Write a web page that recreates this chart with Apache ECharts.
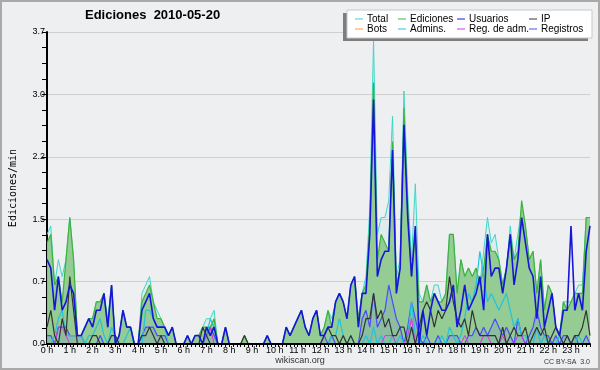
<!DOCTYPE html>
<html>
<head>
<meta charset="utf-8">
<script src="https://cdn.jsdelivr.net/npm/echarts@6/dist/echarts.min.js"></script>
<style>
html,body{margin:0;padding:0;background:#eeeff1;}
#chart{width:600px;height:370px;}
</style>
</head>
<body>
<div id="chart"></div>
<script>
// Tick labels (one per hour) – data points are every 10 minutes
const hourLabels = ['0 h','1 h','2 h','3 h','4 h','5 h','6 h','7 h','8 h','9 h','10 h','11 h',
  '12 h','13 h','14 h','15 h','16 h','17 h','18 h','19 h','20 h','21 h','22 h','23 h'];
const yTicks = [0, 0.74, 1.48, 2.22, 2.96, 3.7];

const total = [
1.3,1.4,0.7,1.0,0.8,1.0,
1.5,1.0,0.1,0.1,0.2,0.3,
0.3,0.5,0.5,0.6,0.3,0.7,
0.0,0.1,0.4,0.2,0.2,0.0,
0.0,0.6,0.7,0.8,0.5,0.4,
0.3,0.2,0.1,0.2,0.0,0.0,
0.0,0.1,0.0,0.1,0.1,0.2,
0.3,0.3,0.4,0.0,0.0,0.2,
0.0,0.0,0.0,0.0,0.1,0.0,
0.0,0.0,0.0,0.0,0.1,0.0,
0.0,0.0,0.0,0.2,0.1,0.2,
0.3,0.4,0.2,0.1,0.3,0.4,
0.1,0.2,0.4,0.3,0.5,0.6,
0.5,0.3,0.7,0.8,0.3,0.6,
0.8,1.6,3.6,1.3,1.5,1.5,
1.7,2.7,0.8,1.0,3.0,1.8,
1.0,1.9,0.6,0.5,0.7,0.5,
0.7,0.7,0.5,0.6,1.3,1.3,
0.6,1.0,0.8,0.9,0.8,0.9,
0.7,1.1,1.5,1.2,1.3,1.0,
0.7,0.9,1.4,1.0,1.3,1.6,
1.4,1.0,1.1,0.6,1.0,0.4,
0.7,0.6,0.2,0.1,0.5,0.5,
0.5,0.6,0.7,0.7,1.5,1.5];

const ediciones = [
1.2,1.3,0.7,0.8,0.5,1.0,
1.5,1.0,0.1,0.1,0.2,0.3,
0.3,0.5,0.5,0.6,0.2,0.7,
0.0,0.1,0.4,0.2,0.2,0.0,
0.0,0.5,0.6,0.7,0.5,0.3,
0.3,0.2,0.1,0.2,0.0,0.0,
0.0,0.1,0.0,0.1,0.1,0.2,
0.2,0.2,0.3,0.0,0.0,0.2,
0.0,0.0,0.0,0.0,0.1,0.0,
0.0,0.0,0.0,0.0,0.1,0.0,
0.0,0.0,0.0,0.2,0.1,0.2,
0.3,0.4,0.2,0.1,0.3,0.4,
0.1,0.2,0.4,0.2,0.5,0.6,
0.5,0.3,0.7,0.8,0.3,0.6,
0.7,1.4,3.1,1.0,1.3,1.2,
1.1,2.4,0.7,0.9,2.8,1.6,
0.8,1.3,0.5,0.5,0.7,0.5,
0.6,0.5,0.5,0.6,1.3,1.3,
0.6,1.0,0.8,0.9,0.8,0.9,
0.7,0.9,1.3,1.1,1.1,1.0,
0.7,0.9,1.3,1.0,1.1,1.7,
1.4,1.0,1.1,0.6,1.0,0.4,
0.7,0.6,0.2,0.1,0.5,0.4,
0.5,0.6,0.6,0.6,1.5,1.5];

const usuarios = [
1.0,0.9,0.4,0.8,0.4,0.5,
0.7,0.6,0.1,0.1,0.2,0.3,
0.2,0.4,0.4,0.6,0.2,0.7,
0.0,0.1,0.4,0.2,0.2,0.0,
0.0,0.4,0.5,0.6,0.3,0.2,
0.2,0.2,0.1,0.2,0.0,0.0,
0.0,0.1,0.0,0.1,0.1,0.0,
0.2,0.1,0.2,0.0,0.0,0.2,
0.0,0.0,0.0,0.0,0.0,0.0,
0.0,0.0,0.0,0.0,0.1,0.0,
0.0,0.0,0.0,0.2,0.1,0.2,
0.3,0.4,0.2,0.1,0.3,0.4,
0.1,0.1,0.2,0.2,0.5,0.6,
0.5,0.3,0.7,0.8,0.2,0.6,
0.6,1.3,2.9,0.8,1.0,1.1,
1.1,2.3,0.6,0.9,2.6,1.5,
0.8,1.4,0.0,0.4,0.1,0.4,
0.6,0.5,0.4,0.4,0.5,0.7,
0.2,0.4,0.7,0.4,0.5,0.6,
0.8,0.4,1.3,0.8,0.9,0.9,
0.6,0.9,1.3,0.7,1.0,1.5,
1.2,0.9,0.8,0.3,0.8,0.2,
0.4,0.6,0.2,0.1,0.4,0.4,
1.4,0.4,0.6,0.4,1.1,1.4];

const ip = [
0.2,0.4,0.1,0.0,0.3,0.1,
0.8,0.4,0.0,0.0,0.0,0.0,
0.1,0.1,0.0,0.0,0.0,0.1,
0.1,0.0,0.0,0.0,0.0,0.0,
0.0,0.1,0.1,0.2,0.1,0.0,
0.1,0.0,0.0,0.0,0.0,0.0,
0.0,0.0,0.0,0.0,0.0,0.2,
0.1,0.0,0.0,0.0,0.0,0.0,
0.0,0.0,0.0,0.0,0.1,0.0,
0.0,0.0,0.0,0.0,0.0,0.0,
0.0,0.0,0.0,0.0,0.0,0.0,
0.0,0.0,0.0,0.0,0.0,0.0,
0.0,0.1,0.2,0.1,0.1,0.0,
0.1,0.0,0.1,0.0,0.0,0.1,
0.3,0.3,0.6,0.3,0.4,0.2,
0.3,0.1,0.1,0.2,0.2,0.0,
0.2,0.0,0.2,0.4,0.5,0.4,
0.2,0.4,0.3,0.4,0.8,0.5,
0.3,0.2,0.3,0.1,0.4,0.2,
0.1,0.1,0.1,0.1,0.1,0.0,
0.2,0.0,0.1,0.2,0.1,0.1,
0.2,0.0,0.1,0.2,0.1,0.2,
0.0,0.1,0.2,0.1,0.0,0.1,
0.0,0.1,0.1,0.2,0.4,0.1];

const bots = [
0,0,0,0,0,0, 0,0,0,0,0,0, 0,0,0,0,0,0, 0,0,0,0,0,0,
0,0,0,0,0,0, 0,0,0,0,0,0, 0,0,0,0,0,0, 0,0,0,0,0,0,
0,0,0,0,0,0, 0,0,0,0,0,0, 0,0,0,0,0,0, 0,0,0,0,0,0,
0,0,0,0,0,0, 0,0,0,0,0,0, 0,0,0,0,0,0, 0,0,0,0,0,0,
0,0,0,0,0,0, 0,0,0,0,0,0, 0,0,0,0,0,0, 0,0,0,0,0,0,
0,0,0,0,0,0, 0,0,0,0,0,0, 0,0,0,0,0,0, 0,0,0,0,0,0];

const admins = [
0.0,0.0,0.1,0.3,0.4,0.1,
0.1,0.1,0.1,0.1,0.0,0.1,
0.1,0.2,0.3,0.1,0.0,0.2,
0.1,0.0,0.0,0.1,0.2,0.0,
0.0,0.0,0.4,0.4,0.3,0.2,
0.2,0.2,0.0,0.0,0.0,0.0,
0.0,0.0,0.0,0.0,0.0,0.0,
0.1,0.3,0.2,0.0,0.0,0.0,
0.0,0.0,0.0,0.0,0.0,0.0,
0.0,0.0,0.0,0.0,0.0,0.0,
0.0,0.0,0.0,0.0,0.0,0.0,
0.0,0.0,0.0,0.0,0.0,0.0,
0.0,0.0,0.0,0.1,0.1,0.3,
0.1,0.0,0.1,0.0,0.0,0.0,
0.1,0.0,0.2,0.0,0.1,0.0,
0.0,0.1,0.0,0.1,0.0,0.1,
0.5,0.1,0.0,0.1,0.0,0.0,
0.0,0.0,0.1,0.0,0.2,0.1,
0.0,0.1,0.3,0.6,0.5,0.7,
1.1,0.8,0.5,0.6,0.5,0.4,
0.5,0.6,0.4,0.2,0.3,0.1,
0.1,0.0,0.0,0.2,0.0,0.1,
0.0,0.0,0.0,0.1,0.0,0.0,
0.0,0.0,0.1,0.0,0.0,0.0];

const regAdm = [
0.0,0.0,0.0,0.2,0.2,0.1,
0.0,0.0,0.0,0.0,0.0,0.0,
0.0,0.0,0.0,0.0,0.0,0.0,
0.0,0.0,0.0,0.0,0.0,0.0,
0.0,0.0,0.0,0.0,0.0,0.0,
0.0,0.0,0.0,0.0,0.0,0.0,
0.0,0.0,0.0,0.0,0.0,0.0,
0.1,0.2,0.0,0.0,0.0,0.0,
0.0,0.0,0.0,0.0,0.0,0.0,
0.0,0.0,0.0,0.0,0.0,0.0,
0.0,0.0,0.0,0.0,0.0,0.0,
0.0,0.0,0.0,0.0,0.0,0.0,
0.0,0.0,0.0,0.0,0.0,0.0,
0.0,0.0,0.0,0.0,0.0,0.0,
0.0,0.0,0.0,0.0,0.0,0.1,
0.1,0.1,0.0,0.0,0.0,0.1,
0.3,0.0,0.0,0.0,0.0,0.0,
0.0,0.0,0.0,0.0,0.0,0.0,
0.0,0.0,0.1,0.0,0.0,0.0,
0.0,0.1,0.1,0.0,0.0,0.0,
0.1,0.0,0.0,0.0,0.1,0.1,
0.0,0.0,0.0,0.0,0.0,0.0,
0.0,0.0,0.0,0.0,0.0,0.0,
0.0,0.0,0.0,0.0,0.0,0.0];

const registros = [
0.1,0.1,0.0,0.2,0.2,0.2,
0.1,0.1,0.1,0.1,0.0,0.0,
0.0,0.0,0.1,0.0,0.0,0.0,
0.0,0.0,0.0,0.0,0.0,0.0,
0.0,0.1,0.2,0.2,0.2,0.1,
0.1,0.1,0.0,0.0,0.0,0.0,
0.0,0.0,0.0,0.0,0.0,0.0,
0.1,0.2,0.1,0.0,0.0,0.0,
0.0,0.0,0.0,0.0,0.0,0.0,
0.0,0.0,0.0,0.0,0.0,0.0,
0.0,0.0,0.0,0.0,0.0,0.0,
0.0,0.0,0.0,0.0,0.0,0.0,
0.0,0.1,0.0,0.1,0.0,0.0,
0.0,0.0,0.0,0.0,0.0,0.3,
0.4,0.2,0.6,0.2,0.3,0.4,
0.7,0.5,0.3,0.2,0.0,0.2,
0.5,0.3,0.1,0.0,0.1,0.0,
0.0,0.1,0.0,0.0,0.1,0.1,
0.1,0.0,0.0,0.1,0.1,0.2,
0.1,0.2,0.1,0.2,0.3,0.2,
0.1,0.2,0.1,0.0,0.3,0.1,
0.0,0.1,0.2,0.4,0.2,0.1,
0.1,0.0,0.1,0.0,0.1,0.1,
0.0,0.1,0.0,0.0,0.1,0.0];

// 10-minute categories built from the hour tick labels
const categories = [];
hourLabels.forEach(function (lab, h) {
  for (let m = 0; m < 6; m++) categories.push(m === 0 ? lab : h + ':' + m + '0');
});

const FONT = 'Liberation Sans, Arial, sans-serif';
const chart = echarts.init(document.getElementById('chart'), null, {renderer: 'canvas'});

function lineSeries(name, data, color, width, area, z) {
  const s = {
    name: name, type: 'line', data: data, symbol: 'none', showSymbol: false,
    color: color, z: z,
    lineStyle: {color: color, width: width},
    emphasis: {disabled: true}
  };
  if (area) s.areaStyle = area;
  return s;
}

const legendBase = {
  orient: 'vertical', top: 14, padding: 0, itemGap: 0,
  itemWidth: 8, itemHeight: 1, icon: 'rect', z: 7, selectedMode: false,
  textStyle: {fontFamily: FONT, fontSize: 10, color: '#000', lineHeight: 10, padding: [0, 0, 0, -1]}
};

chart.setOption({
  animation: false,
  backgroundColor: '#eeeff1',
  title: {
    text: 'Ediciones  2010-05-20', left: 85, top: 9, padding: 0,
    textStyle: {fontFamily: FONT, fontSize: 13, fontWeight: 'bold', color: '#000'}
  },
  legend: [
    Object.assign({}, legendBase, {left: 355, data: ['Total', 'Bots']}),
    Object.assign({}, legendBase, {left: 398, data: ['Ediciones', 'Admins.']}),
    Object.assign({}, legendBase, {left: 457, data: ['Usuarios', 'Reg. de adm.']}),
    Object.assign({}, legendBase, {left: 529, data: ['IP', 'Registros']})
  ],
  graphic: [
    {type: 'rect', shape: {x: 1, y: 1, width: 598, height: 368}, style: {fill: 'none', stroke: '#a9a9a9', lineWidth: 2}, z: 20, silent: true},
    {type: 'rect', shape: {x: 343, y: 13, width: 245, height: 28}, style: {fill: '#7d7d7d'}, z: 5, silent: true},
    {type: 'rect', shape: {x: 347, y: 10, width: 245, height: 28}, style: {fill: '#ffffff', stroke: '#c8c8c8', lineWidth: 1}, z: 6, silent: true},
    {type: 'text', x: 300, y: 361, style: {text: 'wikiscan.org', fill: '#333', font: '9px ' + FONT, textAlign: 'center', textVerticalAlign: 'middle'}, z: 20, silent: true},
    {type: 'text', x: 590, y: 362, style: {text: 'CC BY-SA  3.0', fill: '#333', font: '7px ' + FONT, textAlign: 'right', textVerticalAlign: 'middle'}, z: 20, silent: true}
  ],
  grid: {left: 45, right: 10, top: 32, bottom: 26, containLabel: false},
  xAxis: {
    type: 'category', data: categories, boundaryGap: false, z: 10,
    axisLine: {lineStyle: {color: '#000', width: 2}},
    axisTick: {show: true, interval: 0, length: 3, lineStyle: {color: '#000', width: 1}},
    axisLabel: {interval: 5, fontFamily: FONT, fontSize: 9, color: '#000', margin: 2,
      formatter: function (v) { return hourLabels.indexOf(v) >= 0 ? v : ''; }},
    splitLine: {show: false}
  },
  yAxis: {
    type: 'value', min: yTicks[0], max: yTicks[yTicks.length - 1], interval: yTicks[1],
    name: 'Ediciones/min', nameLocation: 'middle', nameGap: 29,
    nameTextStyle: {fontFamily: 'DejaVu Sans Mono, monospace', fontSize: 10, color: '#000'},
    axisLine: {show: true, lineStyle: {color: '#000', width: 2}},
    axisTick: {show: true, length: 5, lineStyle: {color: '#000'}},
    minorTick: {show: true, splitNumber: 4, length: 5, lineStyle: {color: '#000'}},
    axisLabel: {fontFamily: FONT, fontSize: 9, color: '#000', margin: 2,
      formatter: function (v) { return v.toFixed(1); }},
    splitLine: {show: true, lineStyle: {color: '#cfcfcf', width: 1}}
  },
  series: [
    lineSeries('Total', total, '#3fd6c6', 1, {color: 'rgba(64,214,198,0.12)'}, 2),
    lineSeries('Ediciones', ediciones, '#3cb33c', 1.2, {color: '#8fca8f', opacity: 0.95}, 3),
    lineSeries('Registros', registros, '#4a4aff', 1.2, {color: 'rgba(80,80,255,0.16)'}, 4),
    lineSeries('Admins.', admins, '#22c3dd', 1.2, null, 5),
    lineSeries('Reg. de adm.', regAdm, '#dd33dd', 1, null, 5),
    lineSeries('Bots', bots, '#ff9a22', 1, null, 5),
    lineSeries('IP', ip, '#333333', 1.2, null, 6),
    lineSeries('Usuarios', usuarios, '#1616d6', 1.6, null, 7)
  ]
});
</script>
</body>
</html>
